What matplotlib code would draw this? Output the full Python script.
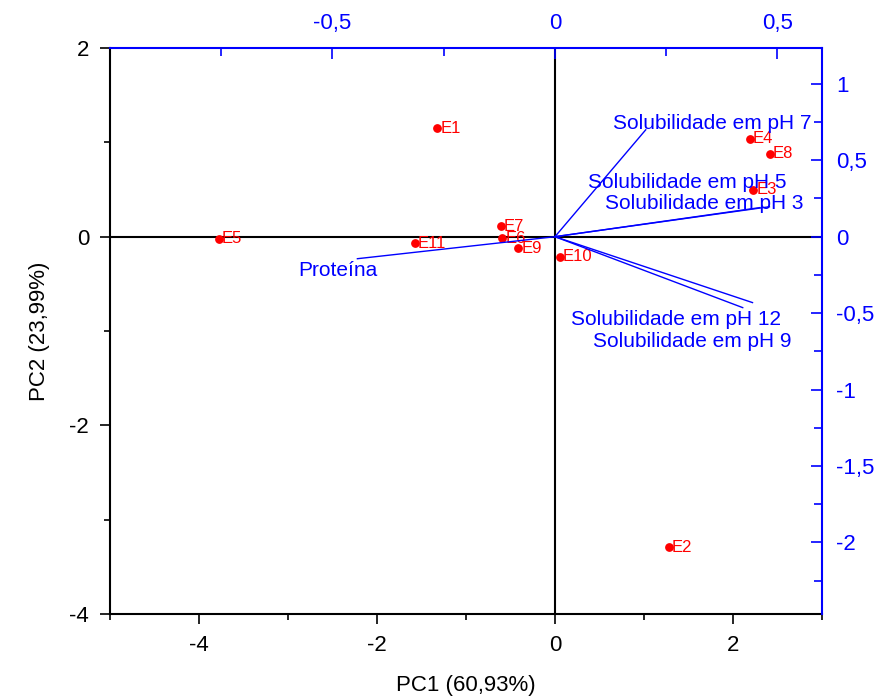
'''
Biplot da PCA: escores das amostras (E1..E11) e cargas das variaveis.
'''
import matplotlib
matplotlib.use('Agg')
import matplotlib.pyplot as plt

plt.rcParams['font.family'] = ['Liberation Sans', 'DejaVu Sans']

# escores (PC1, PC2)
sample_names = ['E1', 'E2', 'E3', 'E4', 'E5', 'E6', 'E7', 'E8', 'E9', 'E10', 'E11']
pc1 = [-1.32, 1.28, 2.23, 2.19, -3.78, -0.59, -0.61, 2.42, -0.41, 0.056, -1.57]
pc2 = [1.15, -3.29, 0.50, 1.04, -0.02, -0.014, 0.11, 0.88, -0.12, -0.21, -0.067]

# cargas (eixos de cima / direita)
var_names = ['Solubilidade em pH 7', 'Solubilidade em pH 5', 'Solubilidade em pH 3',
             'Solubilidade em pH 12', 'Solubilidade em pH 9', 'Proteína']
load1 = [0.204, 0.46, 0.482, 0.444, 0.422, -0.444]
load2 = [0.699, 0.19, 0.196, -0.431, -0.464, -0.144]
# posicao dos rotulos das cargas
lab_x = [0.130, 0.074, 0.112, 0.036, 0.085, -0.576]
lab_y = [0.739, 0.353, 0.216, -0.542, -0.686, -0.222]

fig = plt.figure(figsize=(8.8, 6.98), dpi=100)
rect = [0.125, 0.1203, 0.809, 0.8109]
ax = fig.add_axes(rect)

ax.axhline(0, color='black', lw=1.5, zorder=1)
ax.axvline(0, color='black', lw=1.5, zorder=1)
ax.scatter(pc1, pc2, s=28, color='red', zorder=3)
for name, x, y in zip(sample_names, pc1, pc2):
    ax.annotate(name, (x, y), xytext=(2, 0), textcoords='offset points',
                va='center', ha='left', color='red', fontsize=12, zorder=4)

ax.set_xlim(-5, 3)
ax.set_ylim(-4, 2)
ax.set_xticks([-4, -2, 0, 2])
ax.set_xticks([-5, -3, -1, 1, 3], minor=True)
ax.set_yticks([-4, -2, 0, 2])
ax.set_yticks([-3, -1, 1], minor=True)
ax.tick_params(which='major', direction='out', length=7, width=1.2, labelsize=16, pad=8)
ax.tick_params(which='minor', direction='out', length=4, width=1.2)
ax.spines['top'].set_visible(False)
ax.spines['right'].set_visible(False)
for s in ['left', 'bottom']:
    ax.spines[s].set_linewidth(1.5)
ax.set_xlabel('PC1 (60,93%)', fontsize=16, labelpad=14)
ax.set_ylabel('PC2 (23,99%)', fontsize=16, labelpad=14)
ax.set_yticklabels(['-4', '-2', '0', '2'])
ax.set_xticklabels(['-4', '-2', '0', '2'])

# eixos das cargas
ax2 = fig.add_axes(rect, frameon=True)
ax2.patch.set_visible(False)
ax2.set_xlim(-1.0, 0.6)
ax2.set_ylim(-2.468, 1.234)
ax2.xaxis.tick_top()
ax2.yaxis.tick_right()
ax2.spines['left'].set_visible(False)
ax2.spines['bottom'].set_visible(False)
for s in ['top', 'right']:
    ax2.spines[s].set_color('blue')
    ax2.spines[s].set_linewidth(1.5)
ax2.set_xticks([-0.5, 0, 0.5])
ax2.set_xticklabels(['-0,5', '0', '0,5'])
ax2.set_xticks([-0.75, -0.25, 0.25], minor=True)
ax2.set_yticks([-2, -1.5, -1, -0.5, 0, 0.5, 1])
ax2.set_yticklabels(['-2', '-1,5', '-1', '-0,5', '0', '0,5', '1'])
ax2.set_yticks([-2.25, -1.75, -1.25, -0.75, -0.25, 0.25, 0.75], minor=True)
ax2.tick_params(which='major', direction='in', length=8, width=1.2,
                colors='blue', labelsize=16, pad=10)
ax2.tick_params(which='minor', direction='in', length=6, width=1.2, colors='blue')

for name, x, y, tx, ty in zip(var_names, load1, load2, lab_x, lab_y):
    ax2.plot([0, x], [0, y], color='blue', lw=1)
    ax2.text(tx, ty, name, color='blue', fontsize=15, ha='left', va='center')

fig.savefig('out.png', dpi=100)
